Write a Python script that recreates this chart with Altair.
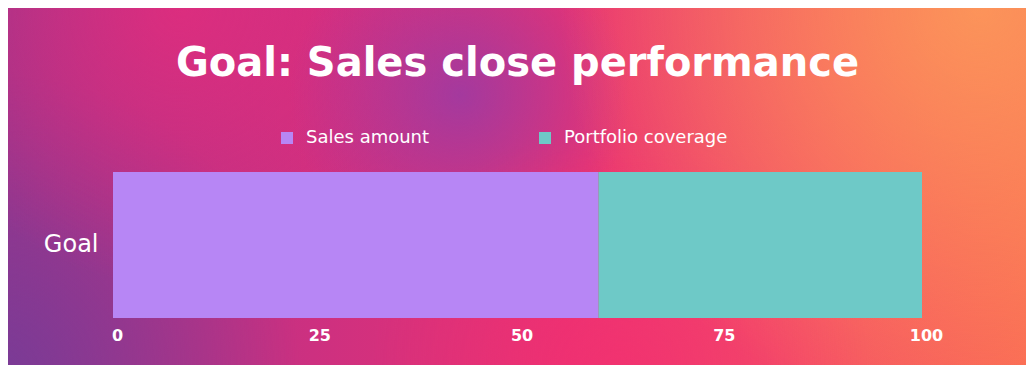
import altair as alt
import pandas as pd

categories = ["Goal"]
series = ["Sales amount", "Portfolio coverage"]
values = [60, 40]
x_ticks = [0, 25, 50, 75, 100]
colors = ["#b786f5", "#6ec9c7"]

df = pd.DataFrame({
    "category": [categories[0]] * len(series),
    "series": series,
    "value": values,
    "order": list(range(len(series))),
})

FONT = "DejaVu Sans"
OX, OY = 113, 172  # page position of plot origin
TOP = 8
one = pd.DataFrame({"a": [0]})


def rect_layer(px0, px1, py0, py1, fill):
    return alt.Chart(one).mark_rect(fill=fill, strokeWidth=0).encode(
        x=alt.value(px0 - OX), x2=alt.value(px1 - OX),
        y=alt.value(py0 - OY), y2=alt.value(py1 - OY))


def glow(cx, cy, r, rgb, a):
    s = 2 * r
    x0 = cx - r
    y0 = max(TOP, cy - r)
    cyb = (cy - y0) / s
    g = alt.Gradient(
        gradient="radial",
        stops=[
            alt.GradientStop(offset=0, color=f"rgba({rgb},{a})"),
            alt.GradientStop(offset=1, color=f"rgba({rgb},0)"),
        ],
        x1=0.5, y1=cyb, r1=0, x2=0.5, y2=cyb, r2=0.5,
    )
    return rect_layer(x0, x0 + s, y0, y0 + s, g)


base = rect_layer(8, 1026, TOP, 365, alt.Gradient(
    gradient="linear",
    stops=[
        alt.GradientStop(offset=0, color="rgb(160,52,138)"),
        alt.GradientStop(offset=0.3, color="rgb(205,48,128)"),
        alt.GradientStop(offset=0.55, color="rgb(232,50,115)"),
        alt.GradientStop(offset=0.8, color="rgb(245,82,100)"),
        alt.GradientStop(offset=1, color="rgb(250,105,85)"),
    ],
    x1=0, y1=0.5, x2=1, y2=0.5,
))

bg_layers = [
    base,
    glow(0, 373, 300, "115,60,152", 0.85),
    glow(180, 8, 280, "228,44,125", 0.8),
    glow(460, 95, 170, "158,58,162", 0.9),
    glow(620, 373, 250, "246,46,112", 0.6),
    glow(980, 8, 420, "252,150,90", 0.95),
]

bars = alt.Chart(df).mark_bar(size=146).encode(
    x=alt.X("value:Q", stack="zero",
            scale=alt.Scale(domain=[0, 100], nice=False),
            axis=alt.Axis(values=x_ticks, title=None, grid=False, domain=False,
                          ticks=False, labelColor="white", labelFontSize=16,
                          labelFont=FONT, labelFontWeight="bold", labelPadding=9,
                          labelOffset=4, labelFlush=False, zindex=1)),
    y=alt.Y("category:N", scale=alt.Scale(paddingInner=0, paddingOuter=0),
            axis=alt.Axis(title=None, domain=False, ticks=False, labelColor="white",
                          labelFontSize=24, labelFont=FONT, labelPadding=15,
                          zindex=1)),
    color=alt.Color("series:N", sort=series,
                    scale=alt.Scale(domain=series, range=colors),
                    legend=alt.Legend(title=None, orient="none", legendX=165, legendY=-43,
                                      direction="horizontal", symbolType="square",
                                      symbolSize=144, symbolStrokeWidth=0,
                                      labelColor="white", labelFontSize=18,
                                      labelFont=FONT, labelOffset=10, labelLimit=400,
                                      columnPadding=106, zindex=1)),
    order=alt.Order("order:Q"),
)

chart = alt.layer(*bg_layers, bars).properties(
    width=809,
    height=146,
    padding={"left": 105, "right": 104, "top": 164, "bottom": 47},
    autosize=alt.AutoSizeParams(type="none"),
    title=alt.Title("Goal: Sales close performance", color="white", fontSize=40,
                    font=FONT, fontWeight="bold", anchor="middle", frame="group",
                    offset=0, baseline="alphabetic", dy=108),
).configure_view(stroke=None).configure(background="#c4367f")

chart.save("out.html", embed_options={"renderer": "svg", "actions": False})
